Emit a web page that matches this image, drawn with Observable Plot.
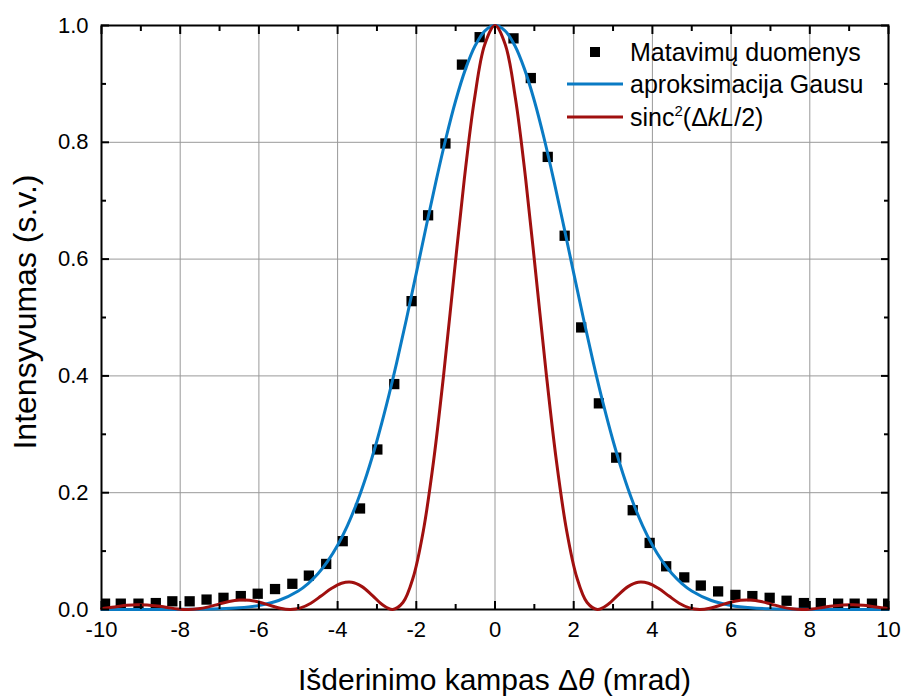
<!DOCTYPE html>
<html><head><meta charset="utf-8">
<script src="https://cdn.jsdelivr.net/npm/d3@7"></script>
<script src="https://cdn.jsdelivr.net/npm/@observablehq/plot@0.6"></script>
<style>body{margin:0;background:#fff;} svg{display:block}</style>
</head><body><div id="chart"></div>
<script>
// measured points (mrad, a.u.)
const pointsX = [-9.91,-9.51,-9.06,-8.62,-8.20,-7.76,-7.33,-6.90,-6.46,-6.03,-5.59,-5.15,-4.73,-4.29,-3.87,-3.43,-2.99,-2.56,-2.12,-1.70,-1.26,-0.84,-0.39,
                 0.47,0.91,1.34,1.77,2.19,2.64,3.08,3.50,3.93,4.35,4.81,5.23,5.67,6.11,6.54,6.98,7.41,7.85,8.28,8.72,9.14,9.58,9.99];
const pointsY = [0.010,0.010,0.010,0.011,0.014,0.014,0.017,0.020,0.023,0.027,0.035,0.044,0.058,0.078,0.117,0.173,0.274,0.386,0.528,0.675,0.798,0.933,0.980,
                 0.978,0.910,0.775,0.640,0.483,0.353,0.260,0.170,0.114,0.074,0.055,0.041,0.031,0.025,0.023,0.020,0.015,0.011,0.011,0.010,0.010,0.010,0.010];
// Gaussian fit curve
const gaussX = [-10,-9,-8,-7,-6.5,-6,-5.5,-5,-4.75,-4.5,-4.25,-4,-3.75,-3.5,-3.25,-3,-2.75,-2.5,-2.25,-2,-1.75,-1.5,-1.25,-1,-0.75,-0.5,-0.25,
                0,0.25,0.5,0.75,1,1.25,1.5,1.75,2,2.25,2.5,2.75,3,3.25,3.5,3.75,4,4.25,4.5,4.75,5,5.5,6,6.5,7,8,9,10];
const gaussY = [0,0,0.0002,0.0012,0.0029,0.0070,0.0154,0.0318,0.0445,0.0612,0.0828,0.1100,0.1437,0.1846,0.2330,0.2890,0.3524,0.4223,0.4974,0.5760,0.6555,0.7332,0.8061,0.8712,0.9253,0.9661,0.9914,
                1,0.9914,0.9661,0.9253,0.8712,0.8061,0.7332,0.6555,0.5760,0.4974,0.4223,0.3524,0.2890,0.2330,0.1846,0.1437,0.1100,0.0828,0.0612,0.0445,0.0318,0.0154,0.0070,0.0029,0.0012,0.0002,0,0];
// sinc^2 curve
const sincX = [-10,-9.88,-9.62,-9.36,-9.10,-8.84,-8.58,-8.32,-8.06,-7.80,-7.54,-7.28,-7.02,-6.76,-6.50,-6.24,-5.98,-5.72,-5.46,-5.20,-4.94,-4.68,-4.42,-4.16,-3.90,-3.64,-3.38,-3.12,-2.86,-2.60,-2.34,-2.08,-1.82,-1.56,-1.30,-1.04,-0.78,-0.52,-0.26,
               0,0.26,0.52,0.78,1.04,1.30,1.56,1.82,2.08,2.34,2.60,2.86,3.12,3.38,3.64,3.90,4.16,4.42,4.68,4.94,5.20,5.46,5.72,5.98,6.24,6.50,6.76,7.02,7.28,7.54,7.80,8.06,8.32,8.58,8.84,9.10,9.36,9.62,9.88,10];
const sincY = [0.0015,0.0024,0.0048,0.0071,0.0083,0.0079,0.0061,0.0034,0.0010,0,0.0012,0.0045,0.0091,0.0136,0.0162,0.0159,0.0125,0.0072,0.0022,0,0.0027,0.0108,0.0230,0.0358,0.0450,0.0468,0.0392,0.0243,0.0080,0,0.0119,0.0547,0.1353,0.2546,0.4053,0.5728,0.7368,0.8751,0.9676,
               1,0.9676,0.8751,0.7368,0.5728,0.4053,0.2546,0.1353,0.0547,0.0119,0,0.0080,0.0243,0.0392,0.0468,0.0450,0.0358,0.0230,0.0108,0.0027,0,0.0022,0.0072,0.0125,0.0159,0.0162,0.0136,0.0091,0.0045,0.0012,0,0.0010,0.0034,0.0061,0.0079,0.0083,0.0071,0.0048,0.0024,0.0015];

const xMajorTicks = [-10,-8,-6,-4,-2,0,2,4,6,8,10];
const xMinorTicks = [-9,-7,-5,-3,-1,1,3,5,7,9];
const yMajorTicks = [0,0.2,0.4,0.6,0.8,1.0];
const yMinorTicks = [0.1,0.3,0.5,0.7,0.9];
const xGrid = [-8,-6,-4,-2,0,2,4,6,8];
const yGrid = [0.2,0.4,0.6,0.8];
const legendLabels = ["Matavimų duomenys","aproksimacija Gausu","sinc"];
const xTitle = ["Išderinimo kampas Δ","θ"," (mrad)"];
const yTitle = "Intensyvumas (s.v.)";

const blue = "#0a7bc4", red = "#a0100f", gridColor = "#999999";

const points = pointsX.map((x,i)=>({x, y:pointsY[i]}));
const gauss = gaussX.map((x,i)=>({x, y:gaussY[i]}));
const sinc = sincX.map((x,i)=>({x, y:sincY[i]}));

const font = "'Liberation Sans', Arial, Helvetica, sans-serif";

const plot = Plot.plot({
  width: 903, height: 698,
  marginLeft: 101, marginRight: 15, marginTop: 25, marginBottom: 89,
  style: {fontFamily: font, fontSize: "22px", color: "black", background: "white"},
  x: {domain: [-10, 10], label: null},
  y: {domain: [0, 1], label: null},
  marks: [
    Plot.ruleX(xGrid, {stroke: gridColor, strokeWidth: 1}),
    Plot.ruleY(yGrid, {stroke: gridColor, strokeWidth: 1}),
    Plot.frame({stroke: "black", strokeWidth: 2}),
    Plot.dot(points, {x: "x", y: "y", symbol: "square", r: 5.8, fill: "black", stroke: "none", clip: true}),
    Plot.line(gauss, {x: "x", y: "y", stroke: blue, strokeWidth: 3, curve: "catmull-rom"}),
    Plot.line(sinc, {x: "x", y: "y", stroke: red, strokeWidth: 3, curve: "catmull-rom"}),
    // inward ticks
    Plot.axisX(xMajorTicks, {anchor: "bottom", tickSize: 8, dy: -8, fill: "none", strokeWidth: 2, label: null}),
    Plot.axisX(xMinorTicks, {anchor: "bottom", tickSize: 5, dy: -5, fill: "none", strokeWidth: 2, label: null}),
    Plot.axisX(xMajorTicks, {anchor: "top", tickSize: 8, dy: 8, fill: "none", strokeWidth: 2, label: null}),
    Plot.axisX(xMinorTicks, {anchor: "top", tickSize: 5, dy: 5, fill: "none", strokeWidth: 2, label: null}),
    Plot.axisY(yMajorTicks, {anchor: "left", tickSize: 8, dx: 8, fill: "none", strokeWidth: 2, label: null}),
    Plot.axisY(yMinorTicks, {anchor: "left", tickSize: 5, dx: 5, fill: "none", strokeWidth: 2, label: null}),
    Plot.axisY(yMajorTicks, {anchor: "right", tickSize: 8, dx: -8, fill: "none", strokeWidth: 2, label: null}),
    Plot.axisY(yMinorTicks, {anchor: "right", tickSize: 5, dx: -5, fill: "none", strokeWidth: 2, label: null}),
    // tick labels
    Plot.axisX(xMajorTicks, {anchor: "bottom", tickSize: 0, tickPadding: 12, tickFormat: d => String(d), label: null, fontSize: 22}),
    Plot.axisY(yMajorTicks, {anchor: "left", tickSize: 0, tickPadding: 13, tickFormat: d => d.toFixed(1), label: null, fontSize: 22})
  ]
});

document.getElementById("chart").appendChild(plot);

const svg = d3.select(plot);
const sx = plot.scale("x"), sy = plot.scale("y");
const cx = (sx.range[0] + sx.range[1]) / 2;
const cy = (sy.range[0] + sy.range[1]) / 2;

// axis titles
const xt = svg.append("text").attr("x", cx).attr("y", 690).attr("text-anchor", "middle")
  .attr("font-family", font).attr("font-size", 30).attr("fill", "black");
xt.append("tspan").text(xTitle[0]);
xt.append("tspan").attr("font-style", "italic").text(xTitle[1]);
xt.append("tspan").text(xTitle[2]);

svg.append("text").attr("transform", `translate(36,${cy - 5}) rotate(-90)`).attr("text-anchor", "middle")
  .attr("font-family", font).attr("font-size", 32).attr("fill", "black").text(yTitle);

// legend
const lg = svg.append("g").attr("font-family", font).attr("font-size", 25).attr("fill", "black").attr("text-anchor", "start");
lg.append("rect").attr("x", 590).attr("y", 47).attr("width", 10).attr("height", 10).attr("fill", "black");
lg.append("line").attr("x1", 567).attr("x2", 623).attr("y1", 84).attr("y2", 84).attr("stroke", blue).attr("stroke-width", 3);
lg.append("line").attr("x1", 567).attr("x2", 623).attr("y1", 117).attr("y2", 117).attr("stroke", red).attr("stroke-width", 3);
lg.append("text").attr("x", 630).attr("y", 61).text(legendLabels[0]);
lg.append("text").attr("x", 630).attr("y", 93).text(legendLabels[1]);
const t3 = lg.append("text").attr("x", 630).attr("y", 126);
t3.append("tspan").text(legendLabels[2]);
t3.append("tspan").attr("font-size", 15).attr("dy", -10).text("2");
t3.append("tspan").attr("dy", 10).text("(Δ");
t3.append("tspan").attr("font-style", "italic").text("kL");
t3.append("tspan").text("/2)");
</script></body></html>
